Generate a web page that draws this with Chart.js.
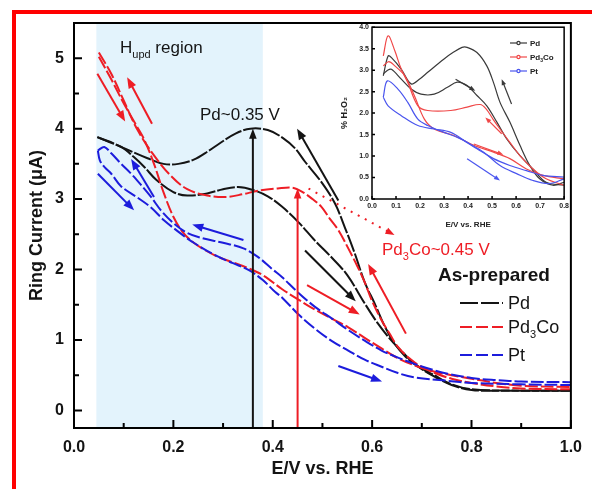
<!DOCTYPE html>
<html lang="en">
<head>
<meta charset="UTF-8">
<title>Ring current vs potential</title>
<script src="https://cdn.jsdelivr.net/npm/chart.js"></script>
<style>
    body {
        margin: 0;
        width: 592px;
        height: 489px;
        overflow: hidden;
        position: relative;
        background: #fff;
    }
    #frame {
        position: absolute;
        left: 12px;
        top: 10px;
        width: 600px;
        height: 500px;
        border-top: 4px solid #f00;
        border-left: 4px solid #f00;
    }
    #main { position: absolute; left: 0; top: 0; }
    #inset { position: absolute; left: 336px; top: 20px; }
</style>
</head>
<body>
<div id="frame"></div>
<canvas id="main" width="592" height="489"></canvas>
<canvas id="inset" width="236" height="220"></canvas>

<script>
// ---------- main panel: ring current (uA) vs E (V vs RHE), [E, I] pairs ----------
const pdUpper = [[0.047,3.88],[0.095,3.74],[0.148,3.58],[0.18,3.5],[0.21,3.5],[0.241,3.56],[0.27,3.68],
    [0.295,3.8],[0.325,3.93],[0.355,4.0],[0.39,3.98],[0.42,3.87],[0.445,3.72],[0.465,3.53],[0.498,3.24],
    [0.525,2.94],[0.545,2.6],[0.565,2.23],[0.585,1.82],[0.605,1.52],[0.625,1.2],[0.645,0.95],[0.665,0.78],
    [0.685,0.66],[0.72,0.5],[0.76,0.36],[0.8,0.29],[0.85,0.28],[0.9,0.28],[1.0,0.28]];
const pdLower = [[0.047,3.88],[0.095,3.74],[0.12,3.6],[0.141,3.46],[0.166,3.27],[0.2,3.1],[0.228,3.05],
    [0.268,3.08],[0.3,3.14],[0.33,3.17],[0.36,3.13],[0.39,3.04],[0.419,2.89],[0.452,2.67],[0.485,2.41],
    [0.52,2.16],[0.55,1.92],[0.585,1.52],[0.61,1.25],[0.639,0.99],[0.665,0.8],[0.685,0.66],[0.725,0.5],
    [0.76,0.37],[0.8,0.3],[0.9,0.28],[1.0,0.28]];
const pd3CoUpper = [[0.05,5.08],[0.075,4.78],[0.1,4.4],[0.128,3.98],[0.161,3.62],[0.195,3.33],[0.228,3.14],
    [0.268,3.05],[0.308,3.03],[0.34,3.07],[0.372,3.12],[0.41,3.15],[0.44,3.16],[0.46,3.1],[0.48,3.0],
    [0.498,2.89],[0.515,2.72],[0.532,2.56],[0.552,2.3],[0.57,2.05],[0.585,1.82],[0.6,1.55],[0.619,1.28],
    [0.636,1.08],[0.652,0.9],[0.675,0.74],[0.699,0.62],[0.73,0.52],[0.76,0.45],[0.8,0.39],[0.85,0.34],
    [0.9,0.31],[1.0,0.3]];
const pd3CoLower = [[0.05,5.02],[0.075,4.7],[0.1,4.36],[0.125,4.05],[0.141,3.85],[0.161,3.5],[0.181,3.08],
    [0.2,2.75],[0.22,2.52],[0.241,2.38],[0.265,2.27],[0.29,2.18],[0.32,2.1],[0.347,2.03],[0.38,1.92],
    [0.419,1.72],[0.45,1.58],[0.485,1.43],[0.52,1.3],[0.552,1.18],[0.585,1.03],[0.619,0.88],[0.652,0.74],
    [0.685,0.64],[0.72,0.56],[0.76,0.5],[0.8,0.45],[0.85,0.39],[0.9,0.35],[1.0,0.33]];
const ptUpper = [[0.048,3.69],[0.061,3.74],[0.075,3.65],[0.095,3.5],[0.115,3.36],[0.135,3.2],[0.155,3.03],
    [0.175,2.84],[0.2,2.66],[0.228,2.52],[0.261,2.44],[0.3,2.38],[0.341,2.3],[0.37,2.18],[0.4,2.0],
    [0.419,1.89],[0.45,1.68],[0.485,1.47],[0.52,1.3],[0.552,1.14],[0.585,0.99],[0.619,0.85],[0.652,0.75],
    [0.685,0.66],[0.72,0.58],[0.752,0.52],[0.8,0.46],[0.85,0.43],[0.9,0.41],[1.0,0.4]];
const ptLower = [[0.048,3.69],[0.052,3.55],[0.062,3.45],[0.075,3.36],[0.095,3.18],[0.128,3.02],[0.155,2.88],
    [0.181,2.7],[0.215,2.51],[0.241,2.38],[0.285,2.2],[0.32,2.09],[0.352,1.99],[0.38,1.85],[0.405,1.68],
    [0.419,1.6],[0.452,1.36],[0.485,1.16],[0.52,0.98],[0.552,0.85],[0.585,0.72],[0.619,0.62],[0.652,0.53],
    [0.685,0.47],[0.752,0.42],[0.8,0.39],[0.9,0.37],[1.0,0.36]];

// scan direction arrows [E1, I1, E2, I2] (head at the second point)
const pdArrows = [[0.532,2.98,0.449,4.0],[0.465,2.27,0.567,1.55]];
const pd3CoArrows = [[0.047,4.78,0.103,4.1],[0.157,4.07,0.107,4.73],[0.469,1.78,0.575,1.36],[0.668,1.09,0.592,2.08]];
const ptArrows = [[0.048,3.36,0.121,2.84],[0.161,3.03,0.115,3.57],[0.341,2.42,0.238,2.64],[0.532,0.63,0.62,0.41]];
const pdPeak = [0.36, 4.0];
const pd3CoPeak = [0.45, 3.15];
const pd3CoPointer = [0.472, 3.15, 0.645, 2.49];
const hupdBand = [0.045, 0.38];

const xTicks = [0, 0.2, 0.4, 0.6, 0.8, 1.0];
const xMinor = [0.1, 0.3, 0.5, 0.7, 0.9];
const yTicks = [0, 1, 2, 3, 4, 5];
const yMinor = [0.5, 1.5, 2.5, 3.5, 4.5];

// ---------- inset: % H2O2 vs E ----------
const insetPdUpper = [[0.047,2.87],[0.067,3.33],[0.081,3.29],[0.122,3.02],[0.163,2.68],[0.2,2.8],[0.232,2.95],
    [0.3,3.26],[0.34,3.42],[0.375,3.53],[0.396,3.53],[0.437,3.41],[0.478,3.1],[0.506,2.71],[0.533,2.25],
    [0.574,1.79],[0.616,1.25],[0.657,0.78],[0.698,0.47],[0.753,0.32],[0.8,0.39]];
const insetPdLower = [[0.047,2.91],[0.065,3.0],[0.081,3.02],[0.122,2.79],[0.163,2.56],[0.204,2.44],[0.259,2.44],
    [0.314,2.6],[0.355,2.72],[0.396,2.64],[0.437,2.41],[0.478,2.17],[0.52,1.79],[0.561,1.4],[0.616,1.01],
    [0.67,0.7],[0.725,0.39],[0.8,0.32]];
const insetPd3CoUpper = [[0.047,3.33],[0.067,3.8],[0.095,3.45],[0.12,3.05],[0.149,2.71],[0.191,2.17],[0.232,2.06],
    [0.328,2.06],[0.396,2.14],[0.45,2.2],[0.475,2.1],[0.505,1.85],[0.533,1.63],[0.574,1.32],[0.616,1.01],
    [0.67,0.7],[0.725,0.47],[0.8,0.32]];
const insetPd3CoLower = [[0.047,3.1],[0.07,3.2],[0.095,3.1],[0.136,2.87],[0.177,2.4],[0.218,1.86],[0.259,1.63],
    [0.341,1.48],[0.424,1.25],[0.506,1.09],[0.574,0.94],[0.643,0.7],[0.712,0.55],[0.8,0.47]];
const insetPtUpper = [[0.047,2.37],[0.064,2.75],[0.108,2.56],[0.149,2.25],[0.191,1.86],[0.232,1.71],[0.3,1.55],
    [0.369,1.4],[0.437,1.17],[0.506,0.94],[0.574,0.78],[0.643,0.66],[0.712,0.55],[0.8,0.51]];
const insetPtLower = [[0.047,2.37],[0.067,2.17],[0.122,1.94],[0.191,1.71],[0.259,1.63],[0.328,1.55],[0.396,1.32],
    [0.465,1.09],[0.533,0.78],[0.602,0.59],[0.67,0.43],[0.739,0.36],[0.8,0.47]];
const insetPdArrows = [[0.348,2.79,0.43,2.52],[0.581,2.21,0.54,2.79]];
const insetPd3CoArrows = [[0.424,1.28,0.547,1.03],[0.54,1.52,0.472,1.9]];
const insetPtArrows = [[0.396,0.94,0.533,0.43]];
const insetXTicks = [0, 0.1, 0.2, 0.3, 0.4, 0.5, 0.6, 0.7, 0.8];
const insetYTicks = [0, 0.5, 1, 1.5, 2, 2.5, 3, 3.5, 4];

const BLACK = '#141414', RED = '#ee1d25', BLUE = '#1c1cdc';
const FONT = '"Liberation Sans", Arial, sans-serif';
Chart.defaults.font.family = FONT;

const toXY = a => a.map(([x, y]) => ({x, y}));

function series(pts, color, dash, width) {
    return {
        data: toXY(pts), borderColor: color, borderWidth: width, borderDash: dash,
        pointRadius: 0, tension: 0.35, fill: false
    };
}

function arrow(ctx, x1, y1, x2, y2, color, lw, head, dotted) {
    const a = Math.atan2(y2 - y1, x2 - x1);
    const c = Math.cos(a), s = Math.sin(a);
    ctx.save();
    ctx.strokeStyle = color;
    ctx.fillStyle = color;
    ctx.lineWidth = lw;
    if (dotted) ctx.setLineDash([2, 6]);
    ctx.beginPath();
    ctx.moveTo(x1, y1);
    ctx.lineTo(x2 - c * head * 0.7, y2 - s * head * 0.7);
    ctx.stroke();
    ctx.setLineDash([]);
    const w = head * 0.38;
    ctx.beginPath();
    ctx.moveTo(x2, y2);
    ctx.lineTo(x2 - c * head + s * w, y2 - s * head - c * w);
    ctx.lineTo(x2 - c * head - s * w, y2 - s * head + c * w);
    ctx.closePath();
    ctx.fill();
    ctx.restore();
}

// text with subscripts: parts = [[text, isSub], ...]
function rich(ctx, x, y, parts, size, weight, color) {
    ctx.save();
    ctx.fillStyle = color;
    ctx.textAlign = 'left';
    ctx.textBaseline = 'alphabetic';
    let cx = x;
    parts.forEach(([t, sub]) => {
        const fs = sub ? Math.round(size * 0.62) : size;
        ctx.font = `${weight} ${fs}px ${FONT}`;
        ctx.fillText(t, cx, y + (sub ? size * 0.3 : 0));
        cx += ctx.measureText(t).width;
    });
    ctx.restore();
}

// inward tick marks + plot frame
function frameTicks(xMaj, xMin, yMaj, yMin, majLen, minLen, lw) {
    return {
        id: 'frameTicks',
        afterDraw(chart) {
            const {ctx, chartArea: a, scales: {x, y}} = chart;
            ctx.save();
            ctx.strokeStyle = '#000';
            ctx.lineWidth = lw;
            ctx.beginPath();
            const tx = (v, len) => { const p = x.getPixelForValue(v); ctx.moveTo(p, a.bottom); ctx.lineTo(p, a.bottom - len); };
            const ty = (v, len) => { const p = y.getPixelForValue(v); ctx.moveTo(a.left, p); ctx.lineTo(a.left + len, p); };
            xMaj.forEach(v => tx(v, majLen));
            xMin.forEach(v => tx(v, minLen));
            yMaj.forEach(v => ty(v, majLen));
            yMin.forEach(v => ty(v, minLen));
            ctx.stroke();
            ctx.strokeRect(a.left, a.top, a.width, a.height);
            ctx.restore();
        }
    };
}

function arrowLayer(groups, lw, head) {
    return {
        id: 'arrowLayer',
        afterDatasetsDraw(chart) {
            const {ctx, scales: {x, y}} = chart;
            groups.forEach(([list, color]) => list.forEach(([a, b, c, d]) =>
                arrow(ctx, x.getPixelForValue(a), y.getPixelForValue(b),
                      x.getPixelForValue(c), y.getPixelForValue(d), color, lw, head, false)));
        }
    };
}

// ---------- main chart ----------
const bandLayer = {
    id: 'bandLayer',
    beforeDatasetsDraw(chart) {
        const {ctx, chartArea: a, scales: {x}} = chart;
        const l = x.getPixelForValue(hupdBand[0]), r = x.getPixelForValue(hupdBand[1]);
        ctx.save();
        ctx.fillStyle = '#e3f3fc';
        ctx.fillRect(l, a.top, r - l, a.height);
        ctx.restore();
    }
};

const markLayer = {
    id: 'markLayer',
    afterDatasetsDraw(chart) {
        const {ctx, scales: {x, y}} = chart;
        arrow(ctx, x.getPixelForValue(pdPeak[0]), y.getPixelForValue(y.min),
              x.getPixelForValue(pdPeak[0]), y.getPixelForValue(pdPeak[1]), BLACK, 2, 10, false);
        arrow(ctx, x.getPixelForValue(pd3CoPeak[0]), y.getPixelForValue(y.min),
              x.getPixelForValue(pd3CoPeak[0]), y.getPixelForValue(pd3CoPeak[1]), RED, 2, 10, false);
        const p = pd3CoPointer;
        arrow(ctx, x.getPixelForValue(p[0]), y.getPixelForValue(p[1]),
              x.getPixelForValue(p[2]), y.getPixelForValue(p[3]), RED, 2, 9, true);
    }
};

const textLayer = {
    id: 'textLayer',
    afterDraw(chart) {
        const ctx = chart.ctx;
        rich(ctx, 120, 53, [['H'], ['upd', 1], [' region']], 17, 'normal', BLACK);
        rich(ctx, 200, 120, [['Pd~0.35 V']], 17, 'normal', BLACK);
        rich(ctx, 382, 255, [['Pd'], ['3', 1], ['Co~0.45 V']], 17, 'normal', RED);
        rich(ctx, 438, 281, [['As-prepared']], 19, 'bold', BLACK);
        const items = [[BLACK, [18, 3], [['Pd']], 303], [RED, [12, 4], [['Pd'], ['3', 1], ['Co']], 327], [BLUE, [12, 4], [['Pt']], 355]];
        items.forEach(([color, dash, label, ly]) => {
            ctx.save();
            ctx.strokeStyle = color;
            ctx.lineWidth = 2;
            ctx.setLineDash(dash);
            ctx.beginPath();
            ctx.moveTo(460, ly);
            ctx.lineTo(503, ly);
            ctx.stroke();
            ctx.restore();
            rich(ctx, 508, ly + 6, label, 18, 'normal', BLACK);
        });
    }
};

new Chart(document.getElementById('main'), {
    type: 'line',
    data: {
        datasets: [
            series(ptUpper, BLUE, [13, 3], 2),
            series(ptLower, BLUE, [13, 3], 2),
            series(pd3CoUpper, RED, [13, 3], 2),
            series(pd3CoLower, RED, [13, 3], 2),
            series(pdUpper, BLACK, [18, 2], 2),
            series(pdLower, BLACK, [18, 2], 2)
        ]
    },
    options: {
        responsive: false,
        animation: false,
        layout: { padding: { top: 23, right: 19, left: 0, bottom: 0 } },
        plugins: { legend: { display: false }, tooltip: { enabled: false } },
        scales: {
            x: {
                type: 'linear', min: 0, max: 1,
                afterFit: s => { s.height = 61; },
                afterBuildTicks: s => { s.ticks = xTicks.map(v => ({value: v})); },
                grid: { display: false, drawTicks: false },
                border: { display: false },
                ticks: { autoSkip: false, maxRotation: 0, padding: 10, color: BLACK,
                         font: { size: 16, weight: 'bold' }, callback: v => v.toFixed(1) },
                title: { display: true, text: 'E/V vs. RHE', color: BLACK,
                         font: { size: 18, weight: 'bold' }, padding: { top: 0, bottom: 9 } }
            },
            y: {
                type: 'linear', min: -0.25, max: 5.5,
                afterFit: s => { s.width = 74; },
                afterBuildTicks: s => { s.ticks = yTicks.map(v => ({value: v})); },
                grid: { display: false, drawTicks: false },
                border: { display: false },
                ticks: { autoSkip: false, padding: 10, color: BLACK,
                         font: { size: 16, weight: 'bold' }, callback: v => String(v) },
                title: { display: true, text: 'Ring Current (\u03bcA)', color: BLACK,
                         font: { size: 18, weight: 'bold' }, padding: { top: 26, bottom: 0 } }
            }
        }
    },
    plugins: [bandLayer, markLayer,
              arrowLayer([[pdArrows, BLACK], [pd3CoArrows, RED], [ptArrows, BLUE]], 2, 11),
              frameTicks(xTicks, xMinor, yTicks, yMinor, 8, 5, 2), textLayer]
});

// ---------- inset chart ----------
const IBLACK = '#3a3a3a', IRED = '#f04848', IBLUE = '#4a55ee';

const insetLegend = {
    id: 'insetLegend',
    afterDraw(chart) {
        const ctx = chart.ctx;
        [[IBLACK, [['Pd']], 23], [IRED, [['Pd'], ['3', 1], ['Co']], 37], [IBLUE, [['Pt']], 51]].forEach(([c, label, ly]) => {
            ctx.save();
            ctx.strokeStyle = c;
            ctx.lineWidth = 1.2;
            ctx.beginPath();
            ctx.moveTo(174, ly);
            ctx.lineTo(191, ly);
            ctx.stroke();
            ctx.beginPath();
            ctx.arc(182.5, ly, 1.6, 0, Math.PI * 2);
            ctx.fillStyle = '#fff';
            ctx.fill();
            ctx.stroke();
            ctx.restore();
            rich(ctx, 194, ly + 3, label, 8, 'bold', '#222');
        });
    }
};

new Chart(document.getElementById('inset'), {
    type: 'line',
    data: {
        datasets: [
            series(insetPtUpper, IBLUE, [], 1.2),
            series(insetPtLower, IBLUE, [], 1.2),
            series(insetPd3CoUpper, IRED, [], 1.2),
            series(insetPd3CoLower, IRED, [], 1.2),
            series(insetPdUpper, IBLACK, [], 1.2),
            series(insetPdLower, IBLACK, [], 1.2)
        ]
    },
    options: {
        responsive: false,
        animation: false,
        layout: { padding: { top: 7, right: 6, left: 0, bottom: 0 } },
        plugins: { legend: { display: false }, tooltip: { enabled: false } },
        scales: {
            x: {
                type: 'linear', min: 0, max: 0.8,
                afterFit: s => { s.height = 41; },
                afterBuildTicks: s => { s.ticks = insetXTicks.map(v => ({value: v})); },
                grid: { display: false, drawTicks: false },
                border: { display: false },
                ticks: { autoSkip: false, maxRotation: 0, padding: 3, color: '#222',
                         font: { size: 7, weight: 'bold' }, callback: v => v.toFixed(1) },
                title: { display: true, text: 'E/V vs. RHE', color: '#222',
                         font: { size: 8, weight: 'bold' }, padding: { top: 0, bottom: 10 } }
            },
            y: {
                type: 'linear', min: 0, max: 4,
                afterFit: s => { s.width = 36; },
                afterBuildTicks: s => { s.ticks = insetYTicks.map(v => ({value: v})); },
                grid: { display: false, drawTicks: false },
                border: { display: false },
                ticks: { autoSkip: false, padding: 3, color: '#222',
                         font: { size: 7, weight: 'bold' }, callback: v => v.toFixed(1) },
                title: { display: true, text: '% H\u2082O\u2082', color: '#222',
                         font: { size: 9, weight: 'bold' }, padding: { top: 3, bottom: 0 } }
            }
        }
    },
    plugins: [arrowLayer([[insetPdArrows, IBLACK], [insetPd3CoArrows, IRED], [insetPtArrows, IBLUE]], 1.2, 6),
              frameTicks(insetXTicks, [], insetYTicks, [], 3, 0, 1.5), insetLegend]
});
</script>
</body>
</html>
